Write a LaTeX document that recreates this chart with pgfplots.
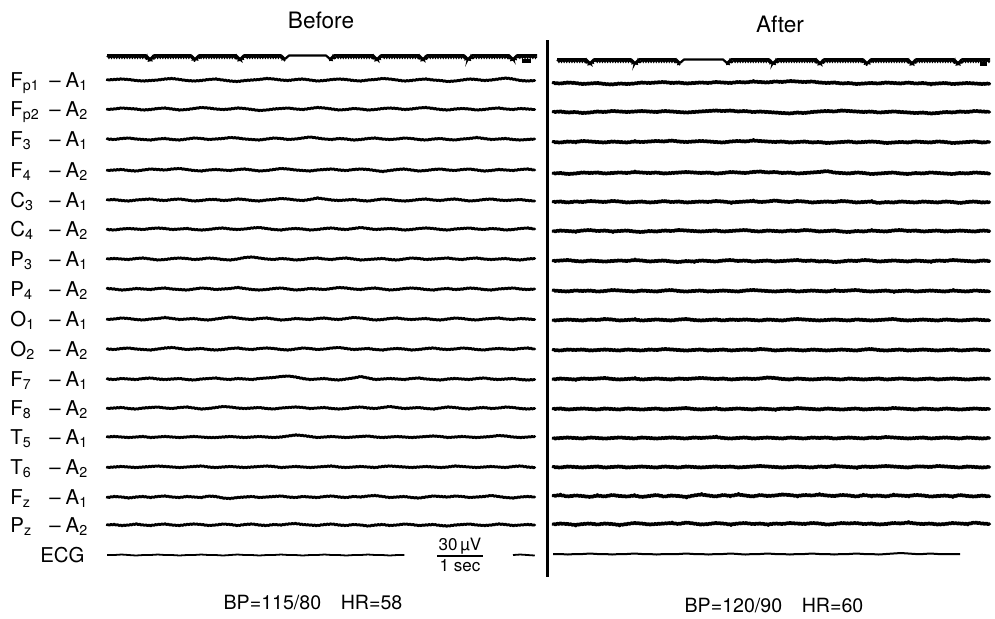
\documentclass[border=0pt]{standalone}
\usepackage{fontspec}
\setmainfont{TeX Gyre Heros}
\usepackage{pgfplots}
\usepackage{pgfplotstable}
\pgfplotsset{compat=1.18}
\usetikzlibrary{decorations.pathmorphing}

% deviations in half-pixel units, 60 samples per trace
\pgfplotstableread[header=false]{
Fp1 0 -1 -2 -1 1 2 1 0 -2 -3 -1 1 2 1 -1 -2 0 2 3 1 0 -1 -3 -2 0 1 -1 -2 0 2 1 -1 -2 -1 1 2 0 -1 -3 -2 0 2 1 -1 -2 0 1 3 2 0 -2 -1 1 0 -2 -4 -2 1 2 1
Fp2 1 0 -2 -1 0 2 1 -1 -2 0 2 1 -1 -3 -2 0 1 0 -2 -1 1 3 2 0 -1 -2 0 1 -1 -3 -2 0 2 1 -1 0 2 1 -1 -2 -1 1 0 -2 -3 -1 1 2 0 -1 0 2 1 -1 -2 0 1 -1 0 1
F3 0 1 -1 -2 0 1 2 0 -1 1 2 0 -2 -1 1 0 -1 -3 -2 0 1 2 0 -2 -1 1 0 -2 -4 -2 0 1 -1 0 2 1 -1 -2 0 1 0 -2 -1 1 2 0 -1 1 2 0 -1 -3 -1 1 0 -1 1 2 1 0
F4 1 0 -1 1 2 0 -2 -1 0 -2 -3 -1 1 2 0 -1 0 1 -1 -2 0 2 1 -1 -3 -2 0 1 2 0 -1 -2 0 1 -1 -2 -1 1 3 1 -1 -2 0 2 1 -1 -2 0 1 -1 -2 0 2 1 -1 0 1 -1 -2 0
C3 0 -1 1 2 0 -1 -2 0 1 -1 -2 0 2 1 -1 -1 1 0 -2 -1 1 2 0 -1 -3 -2 0 1 -1 -4 -2 0 1 0 -1 1 2 0 -2 -1 1 2 1 -1 -2 0 1 -1 -2 0 2 1 -1 -2 0 1 0 -1 1 2
C4 1 2 0 -1 0 1 -1 -2 -1 1 0 -1 1 2 1 -1 -2 0 1 0 -2 -3 -1 1 2 0 -1 0 2 1 -1 -2 0 1 -1 -3 -1 1 0 -1 0 2 1 -1 -2 -1 1 2 0 -1 -2 0 1 -1 0 2 1 -1 -2 0
P3 0 -1 0 1 -1 -2 0 2 1 -1 -2 -1 1 0 -2 -1 1 2 0 -3 -4 -2 0 1 -1 0 2 1 -1 -2 0 1 -1 -2 0 2 1 0 -1 1 2 0 -2 -1 1 0 -1 -2 0 1 -1 -2 0 1 0 -1 1 2 0 -1
P4 -1 0 2 1 -1 0 1 -1 -2 0 1 2 0 -2 -1 1 0 -1 -3 -1 1 2 1 -1 -2 0 2 1 -1 0 1 -1 -3 -2 0 1 -1 -2 0 2 1 -1 -2 -1 1 2 0 -1 1 0 -2 -1 1 2 0 -1 -2 0 1 0
O1 1 0 -2 -1 1 2 0 -1 -3 -1 1 0 -1 1 2 0 -2 -4 -2 0 1 -1 -2 0 2 1 -1 0 1 -1 -2 0 1 -1 -3 -2 0 2 1 -1 -2 0 1 0 -1 1 2 0 -2 -1 1 2 0 -1 -2 0 1 -1 0 1
O2 0 1 -1 -2 0 1 2 0 -2 -3 -1 1 0 -1 1 2 1 -1 -2 0 1 -1 -2 -1 1 2 0 -2 -1 1 0 -2 -3 -1 1 0 -1 1 2 0 -1 0 2 1 -1 -2 0 1 0 -2 -1 1 2 0 -1 0 1 -1 -2 0
F7 0 1 -1 0 1 -1 -2 0 1 0 -1 1 2 0 -1 -2 0 1 -1 0 1 -1 -2 -3 -5 -6 -4 -1 1 0 -1 1 2 0 -2 -5 -2 1 0 -1 0 1 -1 -2 0 1 2 0 -1 0 1 -1 -2 0 1 0 -1 1 2 1
F8 1 0 -1 1 2 0 -1 -2 0 1 -1 -2 0 2 1 -1 -3 -2 0 1 0 -1 1 2 0 -1 -2 -1 1 0 -1 1 2 1 -1 -2 0 1 -1 -3 -1 1 0 -1 1 2 0 -2 -1 1 2 0 -1 1 0 -2 -1 1 2 1
T5 0 -1 0 1 0 -1 1 0 -1 0 1 0 -1 0 1 1 0 -1 0 1 0 -1 0 1 0 -2 -4 -3 -1 1 0 -1 0 1 0 -1 -2 0 1 0 -1 0 1 0 -1 -2 -1 1 0 -1 0 1 0 -1 -3 -2 0 1 0 -1
T6 1 0 -1 0 1 0 -1 -2 -1 0 1 0 -1 -2 0 1 0 -1 0 1 0 -1 -2 -1 1 0 -1 0 1 0 -1 -2 0 1 0 -1 0 1 -1 -2 -1 0 1 0 -1 0 1 0 -2 -1 0 1 0 -1 0 1 -1 -2 0 1
Fz 1 -1 0 2 0 -1 1 -1 -2 0 1 -1 0 1 -2 -1 2 3 1 0 -1 1 0 -1 -2 0 1 -1 0 1 -1 -2 0 1 -1 0 -2 -3 -1 1 0 -1 1 2 0 -2 -1 0 -2 -1 1 0 -1 -3 -1 1 2 0 -1 0
Pz 0 -1 1 0 -2 0 1 -1 -2 0 1 -1 -2 -1 1 0 -2 -1 1 -1 -2 0 1 -1 0 -2 -3 -1 0 1 -1 -2 0 1 -1 0 2 0 -1 1 0 -2 -1 1 0 -1 1 2 0 -1 -2 0 1 0 -2 -1 1 0 -1 0
ECG 0 0 -1 0 1 0 0 -1 0 0 1 0 0 -1 0 0 1 0 -1 0 0 1 0 0 -1 0 0 1 0 0 -1 0 0 1 0 0 -1 0 0 1 0 0 0 0 0 0 0 0 0 0 0 0 0 0 0 0 0 -1 0 1
}\Lraw
\pgfplotstabletranspose[colnames from=0,input colnames to=idx]\Ldata\Lraw

\pgfplotstableread[header=false]{
Fp1 0 1 -1 0 2 1 0 2 3 1 2 1 -1 0 -1 -2 0 -1 1 0 -1 0 -2 -1 0 -2 -1 -3 -2 -1 -3 -2 -4 -3 -2 -3 -1 0 -1 1 0 2 1 0 1 -1 0 1 -1 1 0 2 1 0 2 1 0 1 2 1
Fp2 0 -1 1 0 2 1 -1 0 -2 -1 0 -1 -2 -1 0 -2 -1 0 1 0 -1 -2 -3 -2 -3 -1 -2 0 -1 0 1 2 3 1 2 0 -1 -2 -1 -3 -2 -1 0 -1 1 0 -1 0 1 2 1 3 2 0 1 -1 0 -2 -1 0
F3 0 1 -1 0 -2 -1 0 1 -1 0 1 -1 0 -1 -2 -1 -3 -1 0 -1 -2 -1 0 1 -1 -2 -1 -3 -2 -1 0 -1 1 0 -1 1 0 2 1 0 -1 1 0 -1 0 2 1 0 1 -1 0 1 -1 0 2 1 0 -1 1 0
F4 1 0 2 1 -1 0 -1 1 0 -1 0 -2 -1 0 -1 1 0 -1 -2 -1 0 -1 1 0 -2 -1 0 -2 -3 -1 -2 0 -1 1 0 -1 -2 -4 -1 0 1 -1 0 2 1 0 -1 1 2 0 1 -1 0 1 2 0 1 -1 0 1
C3 0 -1 1 -1 0 -2 -1 0 -2 -1 1 0 -1 1 0 -2 0 -1 1 0 -1 0 -2 -1 1 0 -1 -2 0 -1 -3 -1 0 -2 -1 1 0 -1 0 -2 -1 1 0 -1 2 0 1 -1 0 1 -1 0 1 -1 0 2 0 -1 1 0
C4 1 -1 0 1 -1 -2 0 -1 1 0 -1 1 2 0 1 -1 0 -2 -1 0 1 0 -1 1 0 -1 -2 0 1 -1 0 1 -1 0 -2 -1 1 0 -1 1 2 0 1 -1 0 1 -1 -2 0 -1 1 0 -1 1 0 -1 0 1 -1 0
P3 0 -1 -2 0 1 -1 0 1 0 -1 0 -2 -1 1 0 -1 1 2 0 1 -1 0 1 -1 -2 0 -1 1 0 -1 1 0 -1 -2 0 -1 1 0 2 1 -1 0 -2 -1 1 0 -1 0 1 -1 0 1 -1 0 -2 -1 0 1 -1 0
P4 -1 0 1 -1 0 -1 1 0 -2 -1 0 1 -1 0 1 -1 -2 0 1 0 -1 1 0 -1 0 1 -1 -2 -1 0 1 0 -1 1 0 -1 0 1 -1 0 -1 -2 0 1 0 -1 1 0 -1 1 0 -1 0 1 -1 0 1 -1 0 1
O1 1 0 -1 0 1 -1 0 -2 -1 1 0 -1 1 0 -1 0 1 -1 -2 0 1 0 -1 1 -1 0 -1 0 1 -1 0 1 -1 -2 -1 0 1 0 -1 0 1 -1 0 1 0 -1 -2 0 1 0 -1 0 1 -1 0 1 0 -1 0 1
O2 0 1 -1 0 -1 1 0 -1 0 1 -1 0 1 -1 0 -2 -1 0 1 0 -1 1 0 -1 1 0 -1 0 -2 -1 1 0 -1 0 1 -1 0 1 0 -1 0 1 -1 -2 0 1 0 -1 1 0 -1 0 1 0 -1 1 0 -1 0 1
F7 1 -1 0 1 -1 0 -1 -2 0 1 0 -1 1 0 -1 0 1 -1 0 -1 -2 -1 0 -1 1 0 -1 0 -1 -3 -2 0 1 -1 0 1 0 -1 0 1 -1 0 1 0 -1 1 0 -1 0 1 0 -1 1 0 -1 0 1 0 -1 0
F8 0 -1 1 0 -1 0 1 -1 0 1 -1 0 1 0 -1 1 0 -1 -2 0 1 0 -1 1 0 -1 0 1 -1 0 1 -1 0 -2 -1 0 1 -1 0 1 0 -1 1 0 -1 0 -2 -1 0 1 -1 0 1 -1 0 1 0 -1 0 0
T5 1 0 -1 0 1 -1 0 1 0 -1 0 1 -1 0 1 0 -1 0 1 -1 0 -1 -2 0 1 0 -1 1 0 -1 0 1 -1 0 1 -1 0 -1 1 0 -1 0 1 -1 0 -2 -1 0 1 0 -1 1 0 -1 0 1 -1 0 1 0
T6 0 1 -1 0 1 0 -1 1 0 -1 1 0 -1 0 1 -1 0 1 -1 0 1 0 -1 0 -1 1 0 -1 -2 -1 0 1 0 -1 0 1 -1 0 -2 -1 0 1 -1 0 -1 -2 -1 0 1 -1 -1 0 -2 -1 0 1 -1 0 1 0
Fz 0 -2 1 -1 0 2 -1 1 -2 0 1 -1 2 0 -2 1 -1 0 2 -1 -3 -1 1 -2 0 -3 -1 1 -2 0 -1 -3 -2 0 -2 -1 -3 -1 0 -2 -1 1 -2 0 -1 1 -2 -1 0 -2 -1 1 0 -1 1 -2 0 1 -1 1
Pz 1 -1 0 2 0 -1 1 -1 0 2 0 -2 -1 1 0 -1 -2 0 -3 -1 1 0 -2 -1 1 -1 -2 0 -1 1 -1 0 -2 -1 0 -2 -1 1 0 -2 -1 -2 0 -1 1 0 -2 -1 -3 -1 0 -1 1 0 -2 -1 0 -3 -1 0
ECG 0 0 1 0 0 -1 0 0 1 0 0 -1 0 0 1 0 0 0 -1 0 0 1 0 0 -1 0 1 0 0 -1 0 0 1 0 0 -1 0 0 1 0 0 -1 0 0 1 0 -1 -2 -1 0 0 -1 0 0 0 0 0 0 0 0
}\Rraw
\pgfplotstabletranspose[colnames from=0,input colnames to=idx]\Rdata\Rraw

% top marker channel (1-s marks)
\pgfplotstableread{
x y
107 57
146 57
150 61
154 57
191 57
195 61
199 57
236 57
240 61
244 57
281 57
285 61
}\LtopA
\pgfplotstableread{
x y
330 61
334 57
373 57
377 61
381 57
419 57
423 61
427 57
464 57
468 61
472 57
509 57
513 61
517 57
537 57
}\LtopB
\pgfplotstableread{
x y
557 61
586 61
590 65
594 61
631 61
635 65
639 61
676 61
680 65
}\RtopA
\pgfplotstableread{
x y
727 65
731 61
769 61
773 65
777 61
816 61
820 65
824 61
863 61
867 65
871 61
908 61
912 65
916 61
954 61
958 65
962 61
990 61
}\RtopB

\newcommand\Ltr[2]{\addplot[ltr] table[x expr=107+7.25*\coordindex, y expr=#2+0.5*\thisrow{#1}]{\Ldata};}
\newcommand\Rtr[2]{\addplot[rtr] table[x expr=553+7.4*\coordindex, y expr=#2+0.5*\thisrow{#1}]{\Rdata};}
\newcommand\comb[1]{%
  \addplot[black,line width=1.2pt,line join=round] table[x=x, y expr=\thisrow{y}-1.6]{#1};
  \addplot[black,line width=0.75pt,decorate,decoration={zigzag,segment length=1.3pt,amplitude=0.5pt}] table[x=x,y=y]{#1};}
\newcommand\lab[3]{%
  \node[anchor=base west] at (axis cs:10,#1+7) {#2};
  \node[anchor=base west] at (axis cs:49,#1+7) {–\hspace{2.5pt}A\textsubscript{#3}};}

\begin{document}
\begin{tikzpicture}[every node/.style={inner sep=0pt, font=\fontsize{10.2}{12}\selectfont}]
\begin{axis}[scale only axis, width=497.5pt, height=309pt,
  xmin=0, xmax=995, ymin=0, ymax=618, y dir=reverse,
  hide axis, clip=false,
  ltr/.style={black, line width=1.35pt, line join=round, line cap=round, mark=none,
    decorate, decoration={zigzag,segment length=1.6pt,amplitude=0.2pt}},
  rtr/.style={black, line width=1.6pt, line join=round, line cap=round, mark=none,
    decorate, decoration={zigzag,segment length=1.7pt,amplitude=0.35pt}}]
\path (rel axis cs:0,0) rectangle (rel axis cs:1,1);

% marker channel
\comb{\LtopA}
\addplot[black,line width=1.1pt,line join=round] coordinates {(285,59)(289,55.5)(326,55.5)(330,59)};
\comb{\LtopB}
\addplot[black,line width=2.2pt] coordinates {(522,61)(531,61)};
\comb{\RtopA}
\addplot[black,line width=1.1pt,line join=round] coordinates {(680,63)(684,59.5)(723,59.5)(727,63)};
\comb{\RtopB}
\addplot[black,line width=2.2pt] coordinates {(980,64)(987,64)};

% left EEG
\Ltr{Fp1}{80}
\Ltr{Fp2}{109}
\Ltr{F3}{139}
\Ltr{F4}{170}
\Ltr{C3}{200}
\Ltr{C4}{229}
\Ltr{P3}{259}
\Ltr{P4}{289}
\Ltr{O1}{319}
\Ltr{O2}{349}
\Ltr{F7}{379}
\Ltr{F8}{408}
\Ltr{T5}{437}
\Ltr{T6}{467}
\Ltr{Fz}{497}
\Ltr{Pz}{525}
\addplot[black,line width=0.9pt,line join=round,restrict x to domain=100:406] table[x expr=107+7.25*\coordindex, y expr=555+0.5*\thisrow{ECG}]{\Ldata};
\addplot[black,line width=0.9pt,line join=round,restrict x to domain=510:540] table[x expr=107+7.25*\coordindex, y expr=555+0.5*\thisrow{ECG}]{\Ldata};

% right EEG
\Rtr{Fp1}{83}
\Rtr{Fp2}{112}
\Rtr{F3}{142}
\Rtr{F4}{173}
\Rtr{C3}{202}
\Rtr{C4}{231}
\Rtr{P3}{261}
\Rtr{P4}{291}
\Rtr{O1}{320}
\Rtr{O2}{350}
\Rtr{F7}{379}
\Rtr{F8}{409}
\Rtr{T5}{438}
\Rtr{T6}{467}
\Rtr{Fz}{496}
\Rtr{Pz}{524}
\addplot[black,line width=1pt,line join=round,restrict x to domain=550:961] table[x expr=553+7.4*\coordindex, y expr=554+0.5*\thisrow{ECG}]{\Rdata};

% divider
\addplot[black,line width=1.5pt] coordinates {(547,40)(547,577)};

% scale
\addplot[black,line width=0.6pt] coordinates {(437,556)(483,556)};
\node[anchor=base,font=\fontsize{8.5}{10}\selectfont] at (axis cs:460,550) {30\,µV};
\node[anchor=base,font=\fontsize{8.5}{10}\selectfont] at (axis cs:460,571) {1 sec};

% labels
\lab{80}{F\textsubscript{p1}}{1}
\lab{109}{F\textsubscript{p2}}{2}
\lab{139}{F\textsubscript{3}}{1}
\lab{170}{F\textsubscript{4}}{2}
\lab{200}{C\textsubscript{3}}{1}
\lab{229}{C\textsubscript{4}}{2}
\lab{259}{P\textsubscript{3}}{1}
\lab{289}{P\textsubscript{4}}{2}
\lab{319}{O\textsubscript{1}}{1}
\lab{349}{O\textsubscript{2}}{2}
\lab{379}{F\textsubscript{7}}{1}
\lab{408}{F\textsubscript{8}}{2}
\lab{437}{T\textsubscript{5}}{1}
\lab{467}{T\textsubscript{6}}{2}
\lab{497}{F\textsubscript{z}}{1}
\lab{525}{P\textsubscript{z}}{2}
\node[anchor=base east] at (axis cs:85,562) {ECG};

% titles and footers
\node[anchor=base,font=\fontsize{11.3}{13}\selectfont] at (axis cs:321,28) {Before};
\node[anchor=base,font=\fontsize{11.3}{13}\selectfont] at (axis cs:780,32) {After};
\node[anchor=base,font=\fontsize{9.8}{12}\selectfont] at (axis cs:313,609) {BP=115/80\hspace{1em}HR=58};
\node[anchor=base,font=\fontsize{9.8}{12}\selectfont] at (axis cs:774,612) {BP=120/90\hspace{1em}HR=60};
\end{axis}
\end{tikzpicture}
\end{document}
